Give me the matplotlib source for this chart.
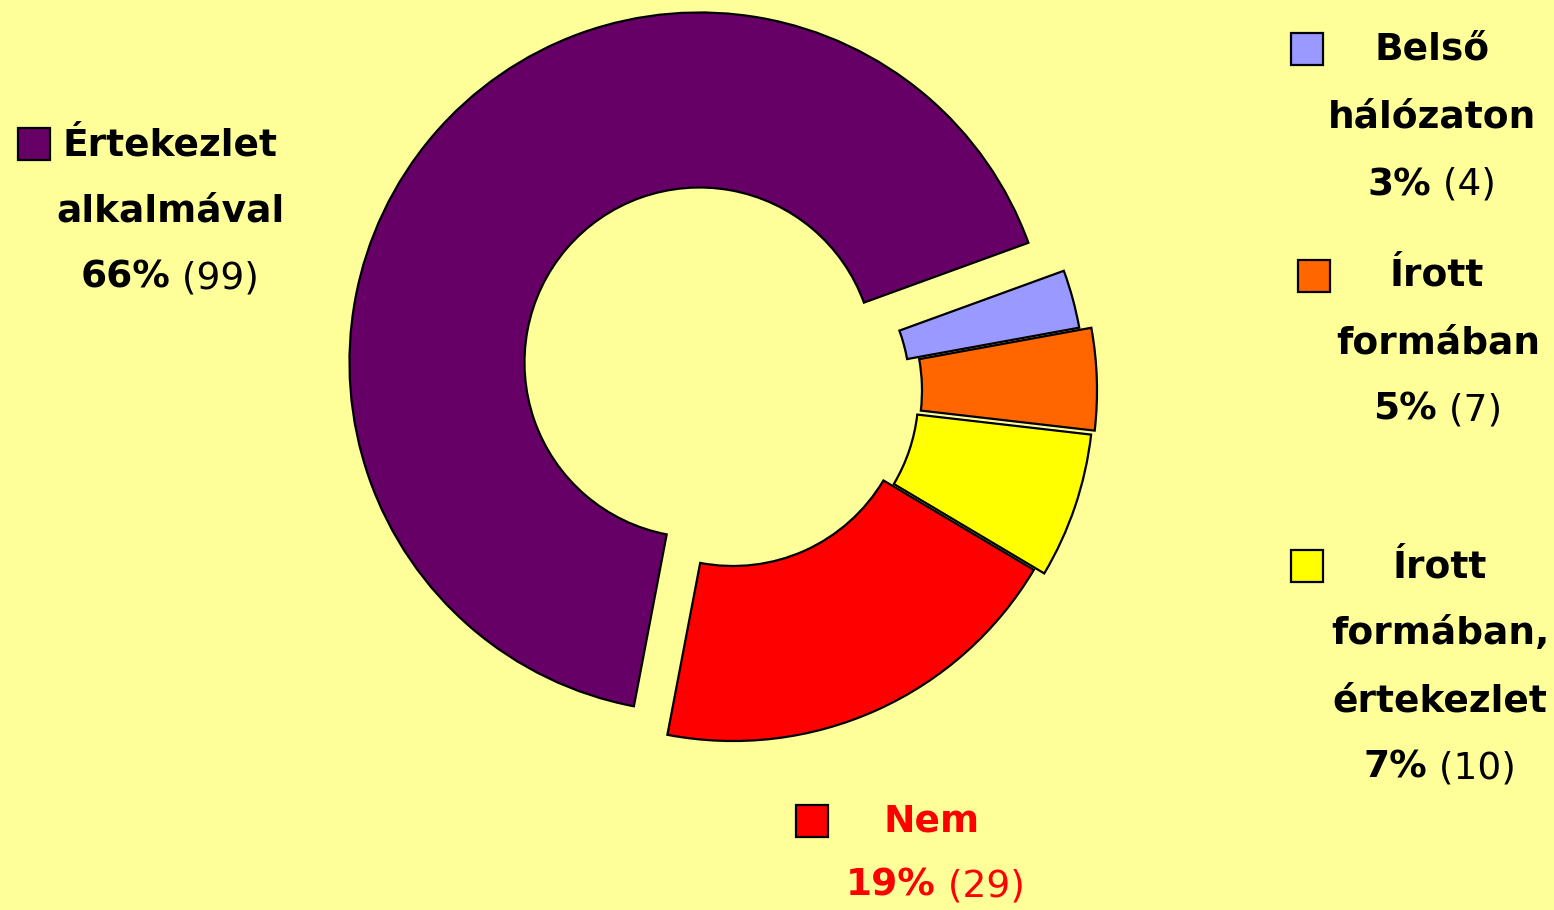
import matplotlib
matplotlib.use("Agg")
import matplotlib.pyplot as plt
from matplotlib.patches import Rectangle

# ---- data ----
categories = ["Belső hálózaton", "Írott formában", "Írott formában, értekezlet",
              "Nem", "Értekezlet alkalmával"]
counts = [4, 7, 10, 29, 99]
percent_labels = ["3%", "5%", "7%", "19%", "66%"]
colors = ["#9999FF", "#FF6600", "#FFFF00", "#FF0000", "#660066"]

# ---- layout / style ----
W, H = 1554, 910
BG = "#FFFF99"
R = 350
CX, CY = 733, 391
explode_px = [2, 14, 11, 0, 44]
FONT = "DejaVu Sans"
FS = 27

fig = plt.figure(figsize=(W / 100, H / 100), dpi=100)
fig.patch.set_facecolor(BG)
ax = fig.add_axes([0, 0, 1, 1])
ax.set_facecolor(BG)

ax.pie(counts, colors=colors, explode=explode_px, startangle=20,
       counterclock=False, radius=R, center=(CX, H - CY), frame=True,
       wedgeprops=dict(width=R * 0.5, edgecolor="black", linewidth=1.6))
ax.set_xlim(0, W)
ax.set_ylim(0, H)
ax.set_aspect("equal")
ax.axis("off")

renderer = fig.canvas.get_renderer()


def line(text, xc, y, color="black", bold=True):
    ax.text(xc, H - y, text, ha="center", va="center", fontsize=FS,
            fontweight="bold" if bold else "normal", family=FONT, color=color)


def pct_line(pct, cnt, xc, y, color="black"):
    t1 = ax.text(0, H - y, pct, ha="left", va="center", fontsize=FS,
                 fontweight="bold", family=FONT, color=color)
    t2 = ax.text(0, H - y, " (" + str(cnt) + ")", ha="left", va="center",
                 fontsize=FS, fontweight="normal", family=FONT, color=color)
    w1 = t1.get_window_extent(renderer).width
    w2 = t2.get_window_extent(renderer).width
    x0 = xc - (w1 + w2) / 2
    t1.set_x(x0)
    t2.set_x(x0 + w1)


def square(x, y, color, size=32):
    ax.add_patch(Rectangle((x, H - y - size), size, size, facecolor=color,
                           edgecolor="black", linewidth=1.6))


# Értekezlet alkalmával (left)
square(18, 128, colors[4])
ax.text(62, H - 145, "Értekezlet", ha="left", va="center", fontsize=FS,
        fontweight="bold", family=FONT)
line("alkalmával", 170, 212)
pct_line(percent_labels[4], counts[4], 170, 278)

# Belső hálózaton
square(1291, 33, colors[0])
line("Belső", 1432, 50)
line("hálózaton", 1432, 118)
pct_line(percent_labels[0], counts[0], 1432, 185)

# Írott formában
square(1298, 260, colors[1])
line("Írott", 1437, 276)
line("formában", 1438, 343)
pct_line(percent_labels[1], counts[1], 1438, 410)

# Írott formában, értekezlet
square(1291, 550, colors[2])
line("Írott", 1440, 567)
line("formában,", 1440, 634)
line("értekezlet", 1440, 701)
pct_line(percent_labels[2], counts[2], 1440, 768)

# Nem
square(796, 805, colors[3])
line("Nem", 932, 822, color="#FF0000")
pct_line(percent_labels[3], counts[3], 935, 886, color="#FF0000")

fig.savefig("out.png", dpi=100, facecolor=BG)
